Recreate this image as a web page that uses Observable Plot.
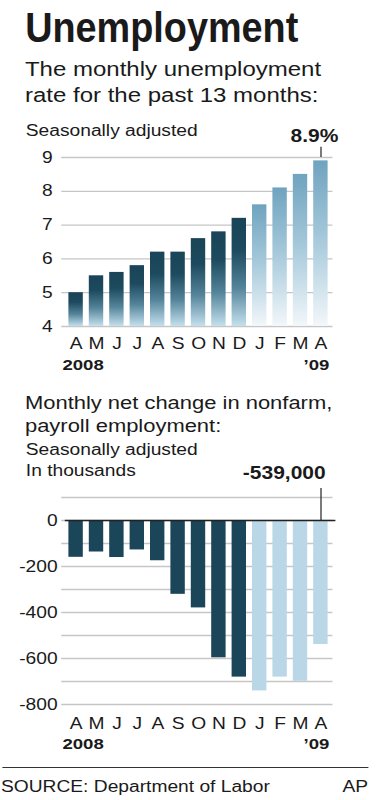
<!DOCTYPE html>
<html><head><meta charset="utf-8">
<script src="https://cdn.jsdelivr.net/npm/d3@7"></script>
<script src="https://cdn.jsdelivr.net/npm/@observablehq/plot@0.6"></script>
<style>
html,body{margin:0;padding:0;background:#fff;}
#root{position:relative;width:315px;height:800px;transform:scaleX(1.2);transform-origin:0 0;font-family:"Liberation Sans",Arial,Helvetica,sans-serif;color:#1a1a1a;}
.t{position:absolute;white-space:nowrap;}
.chart{position:absolute;left:0;}
</style></head><body>
<div id="root">
  <div class="t" style="left:20.8px;top:7.4px;font-size:42px;line-height:42px;font-weight:bold;transform:scaleX(0.75);transform-origin:0 0;">Unemployment</div>
  <div class="t" style="left:20.8px;top:56px;font-size:20px;line-height:26px;">The monthly unemployment<br>rate for the past 13 months:</div>
  <div class="t" style="left:21.5px;top:122.5px;font-size:16px;line-height:16px;">Seasonally adjusted</div>
  <div class="chart" id="chart1" style="top:118px;"></div>
  <div class="t" style="left:20.8px;top:391.2px;font-size:18.3px;line-height:23px;">Monthly net change in nonfarm,<br>payroll employment:</div>
  <div class="t" style="left:21.5px;top:440.2px;font-size:16px;line-height:20.5px;">Seasonally adjusted<br>In thousands</div>
  <div class="chart" id="chart2" style="top:455px;"></div>
  <div style="position:absolute;left:2.1px;top:767.3px;width:304.6px;height:0;border-top:1.5px solid #333;"></div>
  <div class="t" style="left:0.8px;top:778.5px;font-size:16px;line-height:16px;">SOURCE: Department of Labor</div>
  <div class="t" style="right:8.3px;top:778.5px;font-size:16px;line-height:16px;">AP</div>
</div>
<script>
// ---- data ----
const monthKeys = ["2008-04","2008-05","2008-06","2008-07","2008-08","2008-09","2008-10","2008-11","2008-12","2009-01","2009-02","2009-03","2009-04"];
const monthLabels = ["A","M","J","J","A","S","O","N","D","J","F","M","A"];
const monthYears = [2008,2008,2008,2008,2008,2008,2008,2008,2008,2009,2009,2009,2009];
const unemploymentRate = [5.0,5.5,5.6,5.8,6.2,6.2,6.6,6.8,7.2,7.6,8.1,8.5,8.9];
const payrollChange = [-160,-137,-161,-128,-175,-321,-380,-597,-681,-741,-681,-699,-539];
const rateTicks = [4,5,6,7,8,9];
const payrollTicks = [0,-200,-400,-600,-800];
const payrollGrid = [100,0,-100,-200,-300,-400,-500,-600,-700,-800];
const yearLabels = ["2008","\u201909"];

// ---- build ----
const rows = monthKeys.map((k,i)=>({key:k, label:monthLabels[i], year:monthYears[i], rate:unemploymentRate[i], change:payrollChange[i]}));
const labelOf = Object.fromEntries(rows.map(r=>[r.key,r.label]));
const last = rows[rows.length-1];
const rows08 = rows.filter(r=>r.year===2008);
const rows09 = rows.filter(r=>r.year===2009);
const font = "Liberation Sans, Arial, Helvetica, sans-serif";
const baseStyle = {fontFamily: font, fontSize: "16px", background: "none", color: "#1a1a1a", overflow: "visible"};
const xOpts = {domain: monthKeys, paddingInner: 0.3, paddingOuter: 0.15, axis: null, label: null};

const chart1 = Plot.plot({
  width: 315, height: 260,
  marginTop: 39, marginBottom: 52, marginLeft: 53, marginRight: 38,
  style: baseStyle,
  x: xOpts,
  y: {domain: [rateTicks[0], rateTicks[rateTicks.length-1]], axis: null, label: null},
  marks: [
    Plot.gridY(rateTicks, {stroke: "#c6c6c6", strokeOpacity: 1, strokeWidth: 1.3, insetLeft: -2}),
    Plot.barY(rows08, {x: "key", y1: () => rateTicks[0], y2: "rate", fill: "url(#g08)"}),
    Plot.barY(rows09, {x: "key", y1: () => rateTicks[0], y2: "rate", fill: "url(#g09)"}),
    Plot.axisY(rateTicks, {tickSize: 0, tickPadding: 9.7, fontSize: 16, label: null}),
    Plot.axisX({tickSize: 0, tickPadding: 11, fontSize: 16, tickFormat: d => labelOf[d], label: null}),
    Plot.ruleX([last], {x: "key", y1: () => rateTicks[rateTicks.length-1], y2: () => rateTicks[rateTicks.length-1] + 0.3, stroke: "#222", strokeWidth: 1}),
    Plot.text([last], {x: "key", y: () => rateTicks[rateTicks.length-1], text: d => d.rate.toFixed(1) + "%", dy: -16, dx: -5.4, lineAnchor: "bottom", fontWeight: "bold", fontSize: 17.5, fill: "#1a1a1a"}),
    Plot.text([yearLabels[0]], {frameAnchor: "bottom-left", text: d => d, textAnchor: "start", dx: -1.5, dy: 43, fontWeight: "bold", fontSize: 15.5}),
    Plot.text([yearLabels[1]], {frameAnchor: "bottom-right", text: d => d, textAnchor: "end", dx: -3, dy: 43, fontWeight: "bold", fontSize: 15.5})
  ]
});
const defs = d3.select(chart1).insert("defs", ":first-child");
function grad(id, stops){
  const g = defs.append("linearGradient").attr("id", id).attr("x1",0).attr("y1",0).attr("x2",0).attr("y2",1);
  stops.forEach(([o,c])=>g.append("stop").attr("offset",o).attr("stop-color",c));
}
grad("g08", [[0,"#1a4457"],[0.3,"#1d4a5f"],[0.65,"#55859b"],[1,"#c4e0ed"]]);
grad("g09", [[0,"#6fa3bf"],[0.5,"#a9cbdc"],[1,"#f2f7fa"]]);
document.getElementById("chart1").appendChild(chart1);

const fmt = d3.formatLocale({decimal: ".", thousands: ",", grouping: [3], currency: ["$", ""], minus: "-"}).format(",");
const chart2 = Plot.plot({
  width: 315, height: 305,
  marginTop: 42, marginBottom: 56, marginLeft: 53, marginRight: 38,
  style: baseStyle,
  x: xOpts,
  y: {domain: [payrollGrid[payrollGrid.length-1], payrollGrid[0]], axis: null, label: null},
  marks: [
    Plot.gridY(payrollGrid, {stroke: "#c6c6c6", strokeOpacity: 1, strokeWidth: 1.3, insetLeft: -2}),
    Plot.barY(rows08, {x: "key", y: "change", fill: "#1b4558"}),
    Plot.barY(rows09, {x: "key", y: "change", fill: "#b9d7e7"}),
    Plot.ruleY([0], {stroke: "#222", strokeWidth: 1.4, insetLeft: 1, insetRight: -2.5}),
    Plot.axisY(payrollTicks, {tickSize: 0, tickPadding: 5.5, fontSize: 16, tickFormat: d => String(d), label: null}),
    Plot.axisX({tickSize: 0, tickPadding: 13, fontSize: 16, tickFormat: d => labelOf[d], label: null}),
    Plot.ruleX([last], {x: "key", y1: () => 0, y2: () => 139, stroke: "#222", strokeWidth: 1}),
    Plot.text([last], {x: "key", y: () => 139, text: d => fmt(d.change * 1000), dy: -10, dx: 3.9, textAnchor: "end", lineAnchor: "bottom", fontWeight: "bold", fontSize: 17.5, fill: "#1a1a1a"}),
    Plot.text([yearLabels[0]], {frameAnchor: "bottom-left", text: d => d, textAnchor: "start", dx: -1.5, dy: 44.5, fontWeight: "bold", fontSize: 15.5}),
    Plot.text([yearLabels[1]], {frameAnchor: "bottom-right", text: d => d, textAnchor: "end", dx: -3, dy: 44.5, fontWeight: "bold", fontSize: 15.5})
  ]
});
document.getElementById("chart2").appendChild(chart2);
</script>
</body></html>
